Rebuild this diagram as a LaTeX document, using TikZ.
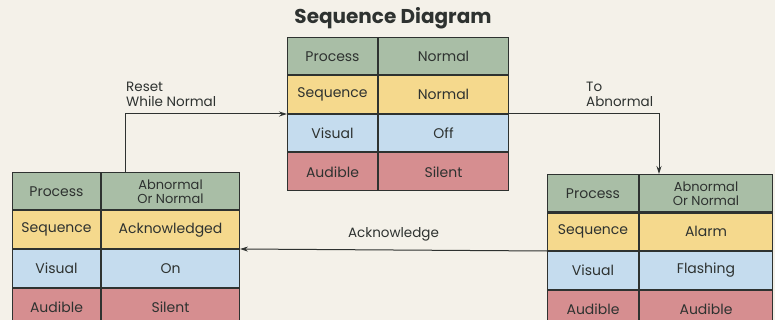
\documentclass[tikz,border=0pt]{standalone}
\usepackage{fontspec}
\setmainfont{Poppins}
\usetikzlibrary{positioning,arrows.meta,fit}

\definecolor{paper}{HTML}{F4F1E9}
\definecolor{ink}{HTML}{2E3230}
\definecolor{procgreen}{HTML}{A9BEA6}
\definecolor{seqyellow}{HTML}{F5D98D}
\definecolor{visblue}{HTML}{C5DCEE}
\definecolor{audred}{HTML}{D68E90}

\tikzset{
    cell/.style={draw=ink, line width=1pt, minimum height=37.5pt, inner sep=0pt,
        align=center, text=ink, font=\fontsize{14}{14}\selectfont},
    flow/.style={draw=ink, line width=1pt, -{Stealth[length=8pt,width=5pt]}},
    flowlabel/.style={text=ink, align=left, inner sep=0pt, font=\fontsize{13.5}{15}\selectfont},
}

% #1 name, #2 top left, #3 label width, #4 value width, #5..#8 values
\newcommand{\seqtable}[8]{%
    \node[cell, fill=procgreen, minimum width=#3, anchor=north west] (#1-p) at (#2) {Process};
    \node[cell, fill=procgreen, minimum width=#4, right=0pt of #1-p] (#1-pv) {#5};
    \node[cell, fill=seqyellow, minimum width=#3, below=0pt of #1-p] (#1-s) {Sequence};
    \node[cell, fill=seqyellow, minimum width=#4, right=0pt of #1-s] (#1-sv) {#6};
    \node[cell, fill=visblue, minimum width=#3, below=0pt of #1-s] (#1-v) {Visual};
    \node[cell, fill=visblue, minimum width=#4, right=0pt of #1-v] (#1-vv) {#7};
    \node[cell, fill=audred, minimum width=#3, below=0pt of #1-v] (#1-a) {Audible};
    \node[cell, fill=audred, minimum width=#4, right=0pt of #1-a] (#1-av) {#8};
    \node[fit=(#1-p)(#1-av), inner sep=0pt] (#1) {};
}

\begin{document}
\begin{tikzpicture}[x=1pt, y=-1pt]
    \fill[paper] (0,0) rectangle (775,320);
    \useasboundingbox (0,0) rectangle (775,320);

    \node[text=ink, font=\fontsize{20}{22}\selectfont\bfseries] (title) at (393,18) {Sequence Diagram};

    \seqtable{normal}{287,37}{90pt}{130pt}{Normal}{Normal}{Off}{Silent}
    \seqtable{ack}{12,172}{88pt}{138pt}{{\fontsize{13}{13}\selectfont Abnormal}\\{\fontsize{13}{13}\selectfont Or Normal}}{Acknowledged}{On}{Silent}
    \seqtable{alarm}{547,174}{91pt}{133pt}{{\fontsize{13}{13}\selectfont Abnormal}\\{\fontsize{13}{13}\selectfont Or Normal}}{Alarm}{Flashing}{Audible}

    % transitions
    \draw[flow] ([xshift=24pt]ack-pv.north west) |- coordinate[pos=0.5] (resetbend) (normal-v.north west);
    \node[flowlabel, anchor=south west] (resetlabel) at ([xshift=1pt, yshift=7pt]resetbend) {Reset\\While Normal};

    \draw[flow] (normal-vv.north east) -| coordinate[pos=0.5] (abnbend) ([xshift=20pt]alarm-pv.north west);
    \node[flowlabel, anchor=south west] (abnlabel) at ([xshift=-73pt, yshift=7pt]abnbend) {To\\Abnormal};

    \draw[flow] (alarm-v.north west) -- node[flowlabel, above=8pt] (acklabel) {Acknowledge} (ack-vv.north east);
\end{tikzpicture}
\end{document}
